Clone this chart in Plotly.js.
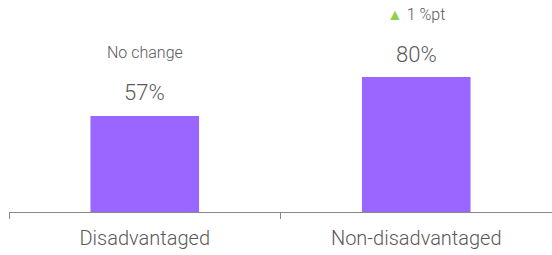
<!DOCTYPE html>
<html>
<head>
<meta charset="utf-8">
<script src="https://cdn.plot.ly/plotly-3.0.1.min.js"></script>
<style>html,body{margin:0;padding:0;background:#fff;}#chart{width:552px;height:255px;}</style>
</head>
<body>
<div id="chart"></div>
<script>
const categories = ['Disadvantaged', 'Non-disadvantaged'];
const values = [57, 80];
const valueLabels = ['57%', '80%'];
const changeLabels = ['No change', '<span style="color:#8fd14f">▲</span> 1 %pt'];

const font = 'Roboto, "Noto Sans", sans-serif';
const annotations = [];
categories.forEach((c, i) => {
  annotations.push({x: c, y: values[i], xref: 'x', yref: 'y', text: valueLabels[i], showarrow: false,
    yanchor: 'middle', yshift: 23, font: {family: font, size: 22, weight: 300, color: '#595959'}});
  annotations.push({x: c, y: values[i], xref: 'x', yref: 'y', text: changeLabels[i], showarrow: false,
    yanchor: 'middle', yshift: 63, font: {family: font, size: 16, weight: 300, color: '#595959'}});
});

Plotly.newPlot('chart', [{
  type: 'bar', x: categories, y: values, width: 0.4,
  marker: {color: '#9966ff'}, hoverinfo: 'none'
}], {
  width: 552, height: 255,
  margin: {l: 9, r: 0, t: 40, b: 43},
  paper_bgcolor: '#fff', plot_bgcolor: '#fff',
  showlegend: false,
  xaxis: {showline: true, linecolor: '#888', linewidth: 1, ticks: 'outside', tickson: 'boundaries',
    ticklen: 6, tickcolor: '#888', ticklabelstandoff: 8,
    tickfont: {family: font, size: 20, weight: 300, color: '#595959'}, showgrid: false},
  yaxis: {range: [0, 102], visible: false, showgrid: false, zeroline: false},
  annotations: annotations
}, {staticPlot: true});
</script>
</body>
</html>
